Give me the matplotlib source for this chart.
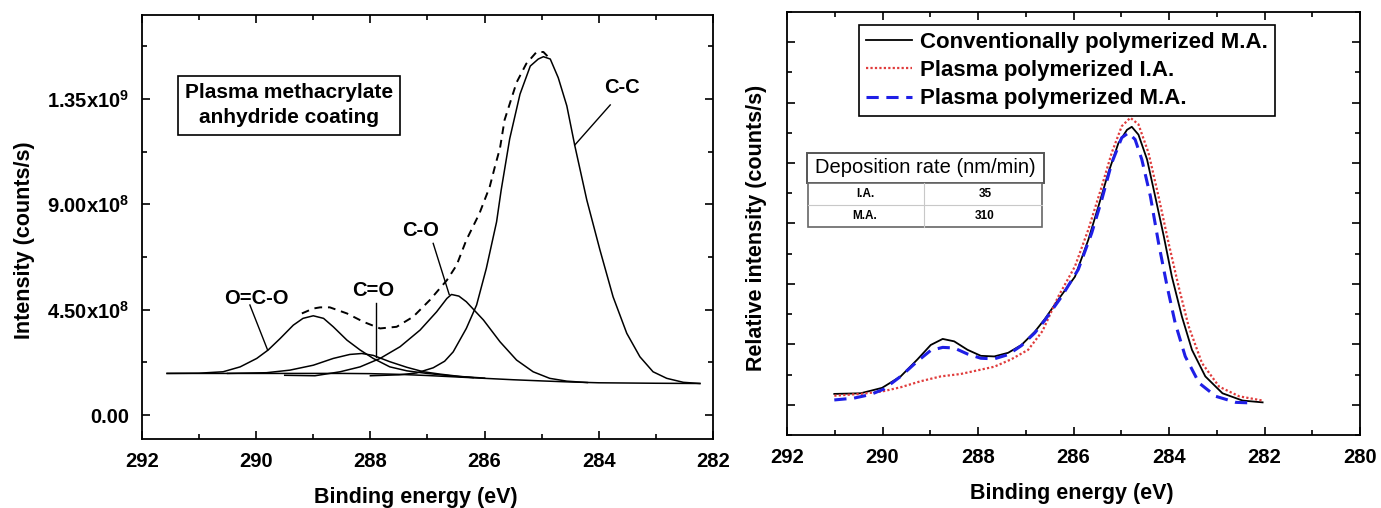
import matplotlib
matplotlib.use("Agg")
import matplotlib.pyplot as plt
from matplotlib.patches import Rectangle
from matplotlib.ticker import MultipleLocator

plt.rcParams['font.family'] = ['Liberation Sans', 'DejaVu Sans']
plt.rcParams['font.weight'] = 'bold'
plt.rcParams['axes.labelweight'] = 'bold'
plt.rcParams['mathtext.fontset'] = 'custom'
plt.rcParams['mathtext.rm'] = 'Liberation Sans:bold'
plt.rcParams['mathtext.bf'] = 'Liberation Sans:bold'
plt.rcParams['mathtext.it'] = 'Liberation Sans:bold'
plt.rcParams['mathtext.default'] = 'regular'

# ---- left panel: C1s fit of plasma methacrylate anhydride (values in 1e8 counts/s)
scale = 1e8
bg_ev = [291.56, 290.5, 289.5, 288.5, 288.0, 287.5, 287.0, 286.5, 286.0, 285.5, 285.0, 284.56, 284.0, 283.0, 282.23]
bg_val = [1.78, 1.78, 1.78, 1.78, 1.77, 1.74, 1.69, 1.63, 1.57, 1.51, 1.46, 1.42, 1.38, 1.36, 1.35]

oco_ev = [291.56, 291.0, 290.58, 290.28, 289.99, 289.79, 289.58, 289.35, 289.18, 289.0, 288.82,
          288.65, 288.41, 288.18, 287.95, 287.66, 287.36, 287.01, 286.6, 286.2]
oco_val = [1.78, 1.79, 1.85, 2.06, 2.42, 2.78, 3.27, 3.84, 4.13, 4.24, 4.13,
           3.77, 3.20, 2.78, 2.42, 2.06, 1.89, 1.78, 1.68, 1.60]

c_o2_ev = [290.5, 289.82, 289.41, 289.0, 288.65, 288.36, 288.15, 287.95, 287.66, 287.36, 287.07, 286.78, 286.43, 286.0]
c_o2_val = [1.78, 1.81, 1.92, 2.13, 2.42, 2.59, 2.63, 2.55, 2.28, 2.04, 1.85, 1.75, 1.65, 1.58]

co_ev = [289.5, 288.97, 288.53, 288.18, 287.83, 287.48, 287.13, 286.84, 286.66, 286.58, 286.45,
         286.32, 286.02, 285.73, 285.44, 285.15, 284.86, 284.56, 284.2]
co_val = [1.70, 1.68, 1.85, 2.06, 2.42, 2.92, 3.63, 4.41, 4.98, 5.15, 5.08,
          4.84, 4.06, 3.13, 2.35, 1.85, 1.57, 1.45, 1.39]

cc_ev = [288.0, 287.5, 287.19, 286.9, 286.7, 286.55, 286.32, 286.14, 285.97, 285.79, 285.71, 285.56,
         285.38, 285.2, 285.06, 284.97, 284.85, 284.71, 284.56, 284.42, 284.21, 283.98, 283.75,
         283.51, 283.28, 283.05, 282.81, 282.52, 282.23]
cc_val = [1.68, 1.72, 1.80, 2.02, 2.30, 2.70, 3.70, 4.70, 6.26, 8.25, 9.6, 11.8,
          13.7, 14.9, 15.2, 15.3, 15.2, 14.4, 13.2, 11.5, 9.18, 7.05, 5.05,
          3.49, 2.49, 1.85, 1.57, 1.40, 1.35]

env_ev = [289.2, 289.0, 288.88, 288.71, 288.41, 288.12, 287.83, 287.54, 287.25, 286.96, 286.66,
          286.49, 286.32, 286.09, 285.91, 285.82, 285.73, 285.65, 285.44, 285.27, 285.09, 284.97, 284.85]
env_val = [4.34, 4.55, 4.60, 4.60, 4.34, 3.98, 3.70, 3.77, 4.20, 4.91, 5.76,
           6.40, 7.47, 8.61, 9.75, 10.6, 11.4, 12.6, 14.2, 15.0, 15.5, 15.5, 15.2]

left_yticks = [0.0, 4.5e8, 9.0e8, 1.35e9]
left_yticklabels = ["0.00", "4.50x10$^{8}$", "9.00x10$^{8}$", "1.35x10$^{9}$"]
xticks_left = [292, 290, 288, 286, 284, 282]

# peak labels: text, text position, leader line start, leader line end (eV, 1e8 counts/s)
peak_labels = ["C-C", "C-O", "C=O", "O=C-O"]
peak_text_xy = [(283.60, 14.0), (287.13, 7.9), (287.95, 5.34), (289.99, 4.98)]
peak_line_from = [(283.80, 13.24), (286.90, 7.33), (287.91, 4.77), (290.11, 4.70)]
peak_line_to = [(284.42, 11.53), (286.62, 5.15), (287.91, 2.49), (289.80, 2.78)]

# ---- right panel: normalised C1s spectra
black_ev = [291.01, 290.46, 290.01, 289.62, 289.27, 288.99, 288.74, 288.5, 288.22, 287.94, 287.66,
            287.37, 287.09, 286.81, 286.6, 286.32, 285.97, 285.69, 285.48, 285.27, 285.06, 284.88,
            284.78, 284.64, 284.46, 284.29, 284.11, 283.94, 283.73, 283.52, 283.24, 282.88, 282.46, 282.04]
black_v = [0.18, 0.19, 0.28, 0.47, 0.75, 0.99, 1.09, 1.05, 0.91, 0.81, 0.80,
           0.86, 0.99, 1.21, 1.42, 1.74, 2.12, 2.73, 3.28, 3.84, 4.33, 4.55,
           4.60, 4.47, 4.06, 3.45, 2.79, 2.12, 1.46, 0.91, 0.47, 0.19, 0.07, 0.04]

red_ev = [291.01, 290.46, 290.01, 289.62, 289.2, 288.78, 288.36, 288.01, 287.66, 287.31, 286.95,
          286.65, 286.32, 285.97, 285.69, 285.41, 285.2, 284.99, 284.81, 284.64, 284.43, 284.22,
          284.01, 283.8, 283.59, 283.31, 282.95, 282.53, 282.04]
red_v = [0.15, 0.18, 0.22, 0.29, 0.39, 0.47, 0.51, 0.57, 0.63, 0.75, 0.91,
         1.22, 1.79, 2.29, 2.90, 3.61, 4.17, 4.61, 4.75, 4.64, 4.17, 3.45,
         2.68, 1.96, 1.30, 0.69, 0.30, 0.14, 0.07]

blue_ev = [291.01, 290.6, 290.25, 289.97, 289.62, 289.27, 288.99, 288.74, 288.5, 288.22, 287.94,
           287.66, 287.37, 287.09, 286.81, 286.6, 286.25, 285.9, 285.62, 285.41, 285.2, 284.99,
           284.85, 284.71, 284.57, 284.39, 284.22, 284.04, 283.87, 283.66, 283.37, 283.02, 282.6, 282.25]
blue_v = [0.08, 0.11, 0.17, 0.26, 0.47, 0.72, 0.90, 0.95, 0.94, 0.84, 0.77,
          0.76, 0.83, 0.98, 1.19, 1.40, 1.79, 2.24, 2.84, 3.39, 4.0, 4.42,
          4.50, 4.39, 4.06, 3.45, 2.68, 1.96, 1.35, 0.80, 0.36, 0.14, 0.04, 0.03]

series_labels = ["Conventionally polymerized M.A.", "Plasma polymerized I.A.", "Plasma polymerized M.A."]
xticks_right = [292, 290, 288, 286, 284, 282, 280]

table_title = "Deposition rate (nm/min)"
table_rows = ["I.A.", "M.A."]
table_values = ["35", "310"]


def style_axes(ax):
    for s in ax.spines.values():
        s.set_linewidth(1.3)
    ax.tick_params(which='both', direction='in', top=True, right=True, width=1.2, labelsize=14.5, pad=9)
    ax.tick_params(which='major', length=6)
    ax.tick_params(which='minor', length=3.5)


fig = plt.figure(figsize=(13.81, 5.08), dpi=100)

# left
ax1 = fig.add_axes([0.1028, 0.1358, 0.4135, 0.8347])
lw = 1.1
ax1.plot(bg_ev, [v * scale for v in bg_val], color='black', lw=lw)
ax1.plot(oco_ev, [v * scale for v in oco_val], color='black', lw=lw)
ax1.plot(c_o2_ev, [v * scale for v in c_o2_val], color='black', lw=lw)
ax1.plot(co_ev, [v * scale for v in co_val], color='black', lw=lw)
ax1.plot(cc_ev, [v * scale for v in cc_val], color='black', lw=lw)
ax1.plot(env_ev, [v * scale for v in env_val], color='black', lw=1.4, ls=(0, (4, 3)))

for lab, t, a, b in zip(peak_labels, peak_text_xy, peak_line_from, peak_line_to):
    ax1.plot([a[0], b[0]], [a[1] * scale, b[1] * scale], color='black', lw=1.0)
    ax1.text(t[0], t[1] * scale, lab, fontsize=14.5, ha='center', va='center')

ax1.text(0.2574, 0.7866, "Plasma methacrylate\nanhydride coating", transform=ax1.transAxes,
         fontsize=15, ha='center', va='center', linespacing=1.4,
         bbox=dict(boxstyle='square,pad=0.35', fc='white', ec='black', lw=1.2))

ax1.set_xlim(292, 282)
ax1.set_ylim(-1.02e8, 1.708e9)
ax1.set_xticks(xticks_left)
ax1.xaxis.set_minor_locator(MultipleLocator(1))
ax1.set_yticks(left_yticks, left_yticklabels)
ax1.yaxis.set_minor_locator(MultipleLocator(2.25e8))
style_axes(ax1)
ax1.set_xlabel("Binding energy (eV)", fontsize=15.5)
ax1.set_ylabel("Intensity (counts/s)", fontsize=15.5)
ax1.xaxis.set_label_coords(0.48, -0.113)
ax1.yaxis.set_label_coords(-0.187, 0.47)

# right
ax2 = fig.add_axes([0.5699, 0.1437, 0.4149, 0.8327])
ax2.plot(black_ev, black_v, color='black', lw=1.3, label=series_labels[0])
ax2.plot(red_ev, red_v, color='#e03c3c', lw=1.6, ls=(0, (1, 1)), label=series_labels[1])
ax2.plot(blue_ev, blue_v, color='#1f1fe6', lw=2.2, ls=(0, (4, 2.5)), label=series_labels[2])

leg = ax2.legend(loc='upper left', bbox_to_anchor=(0.1257, 0.969), borderaxespad=0, fontsize=16,
                 frameon=True, fancybox=False, edgecolor='black', framealpha=1,
                 handlelength=2.1, handletextpad=0.35, labelspacing=0.33, borderpad=0.3)
leg.get_frame().set_linewidth(1.2)

# deposition rate table
ax2.add_patch(Rectangle((0.0349, 0.5965), 0.4136, 0.0705, transform=ax2.transAxes,
                        fc='white', ec='#555555', lw=1.4, zorder=5))
ax2.text(0.241, 0.632, table_title, transform=ax2.transAxes, fontsize=14.5, fontweight='normal',
         ha='center', va='center', zorder=6)
ax2.add_patch(Rectangle((0.0366, 0.4924), 0.4084, 0.1041, transform=ax2.transAxes,
                        fc='white', ec='#666666', lw=1.2, zorder=5))
ax2.plot([0.0366, 0.445], [0.5437, 0.5437], transform=ax2.transAxes, color='#c8c8c8', lw=0.8, zorder=6)
ax2.plot([0.2396, 0.2396], [0.4924, 0.5965], transform=ax2.transAxes, color='#c8c8c8', lw=0.8, zorder=6)
row_y = [0.570, 0.518]
for r, v, y in zip(table_rows, table_values, row_y):
    ax2.text(0.136, y, r, transform=ax2.transAxes, fontsize=8.5, ha='center', va='center', zorder=7)
    ax2.text(0.3455, y, v, transform=ax2.transAxes, fontsize=8.5, ha='center', va='center', zorder=7)

ax2.set_xlim(292, 280)
ax2.set_ylim(-0.5, 6.5)
ax2.set_xticks(xticks_right)
ax2.xaxis.set_minor_locator(MultipleLocator(1))
ax2.yaxis.set_major_locator(MultipleLocator(1))
ax2.yaxis.set_minor_locator(MultipleLocator(0.5))
style_axes(ax2)
ax2.tick_params(axis='y', which='both', labelleft=False)
ax2.set_xlabel("Binding energy (eV)", fontsize=15.5)
ax2.set_ylabel("Relative intensity (counts/s)", fontsize=15.5)
ax2.xaxis.set_label_coords(0.497, -0.113)
ax2.yaxis.set_label_coords(-0.035, 0.49)

fig.savefig("out.png", dpi=100)
